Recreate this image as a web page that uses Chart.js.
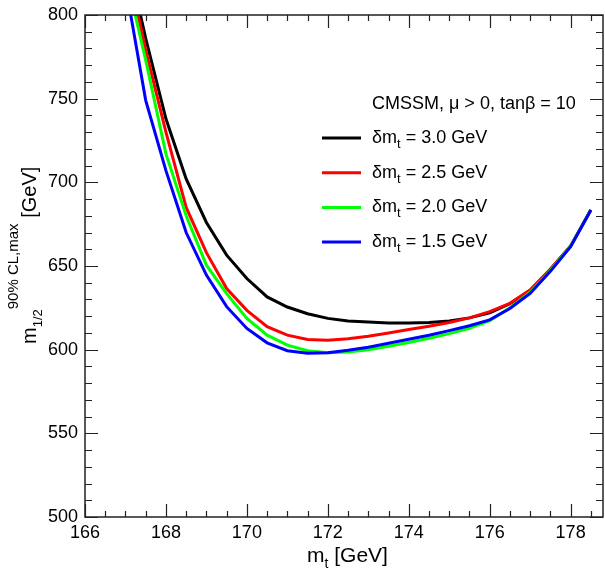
<!DOCTYPE html>
<html>
<head>
<meta charset="utf-8">
<script src="https://cdn.jsdelivr.net/npm/chart.js@4.4.1/dist/chart.umd.min.js"></script>
<style>
html, body { margin: 0; padding: 0; background: #fff; }
#wrap { width: 605px; height: 571px; }
</style>
</head>
<body>
<div id="wrap"><canvas id="chart"></canvas></div>
<script>
// top mass scan, m1/2 upper limit for different dm_t
const mt = [167.0, 167.5, 168.0, 168.5, 169.0, 169.5, 170.0, 170.5, 171.0, 171.5, 172.0, 172.5,
            173.0, 173.5, 174.0, 174.5, 175.0, 175.5, 176.0, 176.5, 177.0, 177.5, 178.0, 178.5];
const dm30 = [840, 786, 738, 702, 676, 656.5, 642.5, 631.5, 625.5, 621.5, 618.7, 617.2,
              616.5, 616, 616, 616.3, 617.2, 619, 622, 627.5, 635.5, 648, 662, 683.5];
const dm25 = [835, 779, 730, 685, 658, 636.5, 623.5, 613.7, 608.7, 606.1, 605.7, 606.5,
              608, 610, 612, 614, 616.2, 619, 622.7, 627.7, 635.6, 648, 662, 683.5];
const dm20 = [825, 773, 717, 680, 650.5, 633.5, 618.7, 608.7, 602.7, 599.4, 598.2, 598.6,
              600, 602, 604.3, 606.8, 609.6, 612.8, 617.3, 625, 634.3, 647.3, 662, 683.5];
const dm15 = [818, 749, 707, 670, 644.6, 625.7, 612.7, 604.1, 599.4, 597.8, 598.2, 599.6,
              601.5, 603.8, 606.2, 608.6, 611.4, 614.3, 617.8, 624.6, 633.6, 646.8, 661.5, 683.5];

const seriesNames = ['3.0', '2.5', '2.0', '1.5'];
const seriesColors = ['#000000', '#ff0000', '#00ff00', '#0000ff'];
const xTicks = [166, 168, 170, 172, 174, 176, 178];
const yTicks = [500, 550, 600, 650, 700, 750, 800];

const FONT = '"Liberation Sans", Arial, sans-serif';

function toPoints(ys) {
    return mt.map((x, i) => ({ x: x, y: ys[i] }));
}

// draw text made of pieces [text, size, baselineShift]
function drawParts(ctx, parts, x, y) {
    let cx = x;
    parts.forEach(p => {
        ctx.font = p[1] + 'px ' + FONT;
        ctx.fillText(p[0], cx, y + p[2]);
        cx += ctx.measureText(p[0]).width;
    });
    return cx;
}

const framePlugin = {
    id: 'frame',
    afterDraw(chart) {
        const ctx = chart.ctx;
        const a = chart.chartArea;
        const xs = chart.scales.x, ys = chart.scales.y;
        ctx.save();
        ctx.strokeStyle = '#222';
        ctx.fillStyle = '#000';
        ctx.lineWidth = 1.5;
        ctx.strokeRect(a.left, a.top, a.right - a.left, a.bottom - a.top);

        // inward ticks on all four sides
        ctx.lineWidth = 1.2;
        ctx.beginPath();
        for (let v = xs.min; v <= xs.max + 1e-6; v += 0.5) {
            const px = Math.round(xs.getPixelForValue(v)) + 0.5;
            const len = (Math.abs(v % 2) < 1e-6) ? 13 : 6;
            ctx.moveTo(px, a.bottom); ctx.lineTo(px, a.bottom - len);
            ctx.moveTo(px, a.top); ctx.lineTo(px, a.top + len);
        }
        for (let v = ys.min; v <= ys.max + 1e-6; v += 10) {
            const py = Math.round(ys.getPixelForValue(v)) + 0.5;
            const len = (v % 50 === 0) ? 13 : 7;
            ctx.moveTo(a.left, py); ctx.lineTo(a.left + len, py);
            ctx.moveTo(a.right, py); ctx.lineTo(a.right - len, py);
        }
        ctx.stroke();

        // tick labels
        ctx.font = '18px ' + FONT;
        ctx.textAlign = 'center';
        ctx.textBaseline = 'alphabetic';
        xTicks.forEach(v => ctx.fillText(String(v), xs.getPixelForValue(v), 538));
        ctx.textAlign = 'right';
        ctx.textBaseline = 'middle';
        yTicks.forEach(v => ctx.fillText(String(v), 78, ys.getPixelForValue(v)));

        // axis titles
        ctx.textAlign = 'left';
        ctx.textBaseline = 'alphabetic';
        drawParts(ctx, [['m', 21, 0], ['t', 14, 6], [' [GeV]', 21, 0]], 307, 562);

        ctx.save();
        ctx.translate(36, 344);
        ctx.rotate(-Math.PI / 2);
        drawParts(ctx, [['m', 20, 0], ['1/2', 13, 6], ['90% CL,max', 15, -18], [' [GeV]', 20, 0]], 0, 0);
        ctx.restore();

        // legend
        drawParts(ctx, [['CMSSM, \u03bc > 0, tan\u03b2 = 10', 18, 0]], 372, 109);
        seriesNames.forEach((n, i) => {
            const base = 143 + i * 34.7;
            ctx.strokeStyle = seriesColors[i];
            ctx.lineWidth = 3;
            ctx.beginPath();
            ctx.moveTo(322, base - 5);
            ctx.lineTo(361, base - 5);
            ctx.stroke();
            drawParts(ctx, [['\u03b4m', 18, 0], ['t', 13, 5], [' = ' + n + ' GeV', 18, 0]], 372, base);
        });
        ctx.restore();
    }
};

const allSeries = [dm30, dm25, dm20, dm15];
const ctx = document.getElementById('chart').getContext('2d');
new Chart(ctx, {
    type: 'line',
    data: {
        datasets: allSeries.map((s, i) => ({
            label: '\u03b4m_t = ' + seriesNames[i] + ' GeV',
            data: toPoints(s),
            borderColor: seriesColors[i],
            borderWidth: 3,
            pointRadius: 0,
            tension: 0,
            fill: false,
            clip: 0,
            order: 4 - i
        }))
    },
    options: {
        responsive: true,
        maintainAspectRatio: false,
        animation: false,
        events: [],
        layout: { padding: { left: 85, right: 2, top: 15, bottom: 54 } },
        plugins: { legend: { display: false }, tooltip: { enabled: false } },
        scales: {
            x: { type: 'linear', min: 166, max: 178.8, display: false },
            y: { type: 'linear', min: 500, max: 800, display: false }
        }
    },
    plugins: [framePlugin]
});
</script>
</body>
</html>
